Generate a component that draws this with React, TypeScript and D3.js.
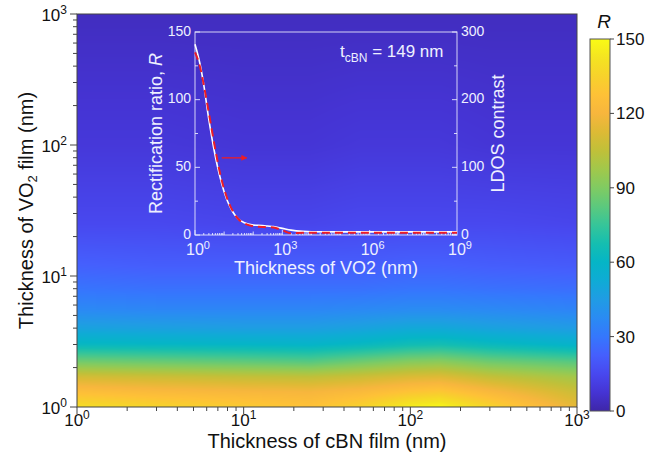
import React, { useEffect, useRef } from "react";
import * as d3 from "d3";

const width = 647;
const height = 470;
const FONT = "Arial, 'Liberation Sans', Helvetica, sans-serif";

// heatmap samples: R(VO2 thickness, cBN thickness)
const cbnThickness = [1, 3, 10, 25, 50, 100, 150, 300, 1000];
const vo2Thickness = [1, 1.3, 1.7, 2.2, 3, 4, 5.5, 8, 12, 25, 100, 1000];
const rectification = [
  [140, 136, 132, 128, 135, 146, 149, 136, 115],
  [126, 123, 121, 120, 123, 129, 131, 122, 108],
  [110, 108, 106, 105, 108, 112, 113, 106, 98],
  [88, 86, 84, 82, 87, 92, 93, 87, 82],
  [62, 61, 60, 59, 62, 66, 67, 63, 58],
  [48, 47, 46, 46, 48, 51, 51, 48, 45],
  [37, 36, 36, 36, 37, 38, 38, 37, 35],
  [29, 28, 28, 28, 28, 29, 29, 28, 27],
  [23, 22, 22, 22, 22, 23, 23, 22, 21],
  [15, 15, 14, 14, 15, 15, 15, 15, 14],
  [9, 9, 8, 8, 9, 9, 9, 8, 8],
  [4, 4, 4, 4, 4, 4, 4, 4, 4],
];

// inset: tcBN = 149 nm
const insetVo2 = [1, 1.5, 2, 3, 5, 7, 10, 15, 20, 30, 50, 100, 200, 300, 500, 1000, 2000, 5000, 1e4, 1e5, 1e6, 1e9];
const insetR = [141, 126, 111, 85, 58, 44, 32, 22, 17, 12, 9, 7.4, 7, 6.6, 6.2, 4.9, 3.6, 2.7, 2.4, 2.3, 2.3, 2.3];
const insetLdos = [270, 248, 222, 180, 126, 94, 68, 46, 35, 24, 17, 13, 12, 11.5, 11, 7, 2.5, 3.2, 3.2, 3.2, 3.2, 3.2];
const arrowVo2 = [8.3, 60];
const arrowR = 57;

const mainTicks = [1, 10, 100, 1000];
const insetXTicks = [1, 1e3, 1e6, 1e9];
const insetLeftTicks = [0, 50, 100, 150];
const insetRightTicks = [0, 100, 200, 300];
const colorbarTicks = [0, 30, 60, 90, 120, 150];

// parula colormap stops
const parula = [
  [0.2422, 0.1504, 0.6603], [0.2717, 0.2052, 0.8305], [0.281, 0.284, 0.938],
  [0.2712, 0.3726, 0.992], [0.2075, 0.466, 0.9915], [0.1659, 0.5463, 0.952],
  [0.1237, 0.6116, 0.8926], [0.059, 0.6693, 0.8359], [0.0196, 0.7114, 0.7747],
  [0.082, 0.7461, 0.691], [0.2115, 0.7707, 0.5993], [0.3626, 0.7886, 0.4921],
  [0.5015, 0.7974, 0.3837], [0.6327, 0.7855, 0.2946], [0.754, 0.7544, 0.2226],
  [0.8666, 0.7276, 0.2069], [0.9703, 0.7148, 0.2393], [0.996, 0.7581, 0.2152],
  [0.9684, 0.8248, 0.1678], [0.9578, 0.8951, 0.1291], [0.9769, 0.9839, 0.0805],
];

const m = { left: 77, right: 577, top: 14, bottom: 407 };
const cb = { left: 590, right: 610, top: 39, bottom: 411 };
const ins = { left: 195, right: 457, top: 32, bottom: 235 };

function sup(sel, base, exp, size, expSize, lift = 0.42) {
  sel.append("tspan").attr("font-size", size).text(base);
  sel.append("tspan").attr("font-size", expSize).attr("dy", -size * lift).text(exp);
}

const App = () => {
  const svgRef = useRef(null);

  useEffect(() => {
    const svg = d3.select(svgRef.current);
    svg.selectAll("*").remove();

    const vmax = 150;
    const color = d3
      .scaleLinear()
      .domain(parula.map((_, i) => (i / (parula.length - 1)) * vmax))
      .range(parula.map((c) => d3.rgb(c[0] * 255, c[1] * 255, c[2] * 255).toString()))
      .clamp(true);

    const x = d3.scaleLog().domain([1, 1000]).range([m.left, m.right]);
    const y = d3.scaleLog().domain([1, 1000]).range([m.bottom, m.top]);

    // heatmap raster
    const w = m.right - m.left;
    const h = m.bottom - m.top;
    const canvas = document.createElement("canvas");
    canvas.width = w;
    canvas.height = h;
    const ctx = canvas.getContext("2d");
    const img = ctx.createImageData(w, h);
    const lx = cbnThickness.map(Math.log10);
    const ly = vo2Thickness.map(Math.log10);
    const locate = (arr, v) => {
      let i = d3.bisectRight(arr, v) - 1;
      i = Math.max(0, Math.min(arr.length - 2, i));
      const t = Math.max(0, Math.min(1, (v - arr[i]) / (arr[i + 1] - arr[i])));
      return [i, t];
    };
    for (let py = 0; py < h; py++) {
      const vy = Math.log10(y.invert(m.top + py + 0.5));
      const [j, ty] = locate(ly, vy);
      for (let px = 0; px < w; px++) {
        const vx = Math.log10(x.invert(m.left + px + 0.5));
        const [i, tx] = locate(lx, vx);
        const a = rectification[j][i] * (1 - tx) + rectification[j][i + 1] * tx;
        const b = rectification[j + 1][i] * (1 - tx) + rectification[j + 1][i + 1] * tx;
        const v = a * (1 - ty) + b * ty;
        const c = d3.rgb(color(v));
        const k = (py * w + px) * 4;
        img.data[k] = c.r;
        img.data[k + 1] = c.g;
        img.data[k + 2] = c.b;
        img.data[k + 3] = 255;
      }
    }
    ctx.putImageData(img, 0, 0);
    svg
      .append("image")
      .attr("x", m.left)
      .attr("y", m.top)
      .attr("width", w)
      .attr("height", h)
      .attr("preserveAspectRatio", "none")
      .attr("href", canvas.toDataURL());

    svg
      .append("rect")
      .attr("x", m.left)
      .attr("y", m.top)
      .attr("width", w)
      .attr("height", h)
      .attr("fill", "none")
      .attr("stroke", "#444")
      .attr("stroke-width", 1);

    // main axes ticks (outward)
    const ax = svg.append("g").attr("stroke", "#444").attr("stroke-width", 1);
    for (let d = 0; d < 3; d++) {
      for (let k = 1; k < 10; k++) {
        const v = k * Math.pow(10, d);
        const len = k === 1 ? 7 : 4;
        ax.append("line").attr("x1", x(v)).attr("x2", x(v)).attr("y1", m.bottom).attr("y2", m.bottom + len);
        ax.append("line").attr("y1", y(v)).attr("y2", y(v)).attr("x1", m.left).attr("x2", m.left - len);
      }
    }
    ax.append("line").attr("x1", x(1000)).attr("x2", x(1000)).attr("y1", m.bottom).attr("y2", m.bottom + 7);
    ax.append("line").attr("y1", y(1000)).attr("y2", y(1000)).attr("x1", m.left).attr("x2", m.left - 7);

    mainTicks.forEach((v, i) => {
      const t = svg
        .append("text")
        .attr("x", x(v))
        .attr("y", 426)
        .attr("text-anchor", "middle")
        .attr("font-family", FONT)
        .attr("fill", "#111");
      sup(t, "10", String(i), 17, 12);
      const ty = svg
        .append("text")
        .attr("x", 67)
        .attr("y", y(v) + 7)
        .attr("text-anchor", "end")
        .attr("font-family", FONT)
        .attr("fill", "#111");
      sup(ty, "10", String(i), 17, 12);
    });

    svg
      .append("text")
      .attr("x", (m.left + m.right) / 2)
      .attr("y", 448)
      .attr("text-anchor", "middle")
      .attr("font-family", FONT)
      .attr("font-size", 20)
      .attr("fill", "#111")
      .text("Thickness of cBN film (nm)");

    const yl = svg
      .append("text")
      .attr("transform", `translate(33,${(m.top + m.bottom) / 2}) rotate(-90)`)
      .attr("text-anchor", "middle")
      .attr("font-family", FONT)
      .attr("font-size", 20)
      .attr("fill", "#111");
    yl.append("tspan").text("Thickness of VO");
    yl.append("tspan").attr("font-size", 13).attr("dy", 4).text("2");
    yl.append("tspan").attr("dy", -4).text(" film (nm)");

    // colorbar
    const cy = d3.scaleLinear().domain([0, vmax]).range([cb.bottom, cb.top]);
    const grad = svg
      .append("defs")
      .append("linearGradient")
      .attr("id", "cbgrad")
      .attr("x1", 0)
      .attr("y1", 1)
      .attr("x2", 0)
      .attr("y2", 0);
    parula.forEach((c, i) => {
      grad
        .append("stop")
        .attr("offset", i / (parula.length - 1))
        .attr("stop-color", d3.rgb(c[0] * 255, c[1] * 255, c[2] * 255).toString());
    });
    svg
      .append("rect")
      .attr("x", cb.left)
      .attr("y", cb.top)
      .attr("width", cb.right - cb.left)
      .attr("height", cb.bottom - cb.top)
      .attr("fill", "url(#cbgrad)")
      .attr("stroke", "#555")
      .attr("stroke-width", 1);
    colorbarTicks.forEach((v) => {
      svg
        .append("line")
        .attr("x1", cb.right)
        .attr("x2", cb.right + 4)
        .attr("y1", cy(v))
        .attr("y2", cy(v))
        .attr("stroke", "#444");
      svg
        .append("text")
        .attr("x", cb.right + 6)
        .attr("y", cy(v) + 6)
        .attr("font-family", FONT)
        .attr("font-size", 17)
        .attr("fill", "#111")
        .text(v);
    });
    svg
      .append("text")
      .attr("x", 604)
      .attr("y", 28)
      .attr("text-anchor", "middle")
      .attr("font-family", FONT)
      .attr("font-size", 19)
      .attr("font-style", "italic")
      .attr("fill", "#111")
      .text("R");

    // inset
    const ix = d3.scaleLog().domain([1, 1e9]).range([ins.left, ins.right]);
    const iyL = d3.scaleLinear().domain([0, 150]).range([ins.bottom, ins.top]);
    const iyR = d3.scaleLinear().domain([0, 300]).range([ins.bottom, ins.top]);
    const ig = svg.append("g");
    const white = "#eef0ff";
    ig.append("rect")
      .attr("x", ins.left)
      .attr("y", ins.top)
      .attr("width", ins.right - ins.left)
      .attr("height", ins.bottom - ins.top)
      .attr("fill", "none")
      .attr("stroke", white)
      .attr("stroke-opacity", 0.85)
      .attr("stroke-width", 1);
    const itk = ig.append("g").attr("stroke", white).attr("stroke-opacity", 0.85);
    for (let d = 0; d < 9; d++) {
      for (let k = 1; k < 10; k++) {
        const v = k * Math.pow(10, d);
        const len = k === 1 ? (d % 3 === 0 ? 5 : 3.5) : 2;
        itk.append("line").attr("x1", ix(v)).attr("x2", ix(v)).attr("y1", ins.bottom).attr("y2", ins.bottom - len);
      }
    }
    d3.range(0, 151, 25).forEach((v) => {
      const len = v % 50 === 0 ? 5 : 3;
      itk.append("line").attr("x1", ins.left).attr("x2", ins.left + len).attr("y1", iyL(v)).attr("y2", iyL(v));
    });
    d3.range(0, 301, 50).forEach((v) => {
      const len = v % 100 === 0 ? 5 : 3;
      itk.append("line").attr("x1", ins.right).attr("x2", ins.right - len).attr("y1", iyR(v)).attr("y2", iyR(v));
    });
    insetLeftTicks.forEach((v) => {
      ig.append("text")
        .attr("x", ins.left - 4)
        .attr("y", iyL(v) + 3.5)
        .attr("text-anchor", "end")
        .attr("font-family", FONT)
        .attr("font-size", 14)
        .attr("fill", white)
        .text(v);
    });
    insetRightTicks.forEach((v) => {
      ig.append("text")
        .attr("x", ins.right + 4)
        .attr("y", iyR(v) + 3.5)
        .attr("font-family", FONT)
        .attr("font-size", 14)
        .attr("fill", white)
        .text(v);
    });
    insetXTicks.forEach((v) => {
      const t = ig
        .append("text")
        .attr("x", ix(v) + 3)
        .attr("y", 255)
        .attr("text-anchor", "middle")
        .attr("font-family", FONT)
        .attr("fill", white);
      sup(t, "10", String(Math.round(Math.log10(v))), 16, 11, 0.36);
    });
    ig.append("text")
      .attr("x", (ins.left + ins.right) / 2)
      .attr("y", 274)
      .attr("text-anchor", "middle")
      .attr("font-family", FONT)
      .attr("font-size", 18)
      .attr("fill", white)
      .text("Thickness of VO2 (nm)");
    const ilab = ig
      .append("text")
      .attr("transform", `translate(162,${(ins.top + ins.bottom) / 2}) rotate(-90)`)
      .attr("text-anchor", "middle")
      .attr("font-family", FONT)
      .attr("font-size", 18)
      .attr("fill", white);
    ilab.append("tspan").text("Rectification ratio, ");
    ilab.append("tspan").attr("font-style", "italic").text("R");
    ig.append("text")
      .attr("transform", `translate(504,${(ins.top + ins.bottom) / 2}) rotate(-90)`)
      .attr("text-anchor", "middle")
      .attr("font-family", FONT)
      .attr("font-size", 18)
      .attr("fill", white)
      .text("LDOS contrast");
    const tl = ig
      .append("text")
      .attr("x", 340)
      .attr("y", 57)
      .attr("font-family", FONT)
      .attr("font-size", 17)
      .attr("fill", white);
    tl.append("tspan").text("t");
    tl.append("tspan").attr("font-size", 12).attr("dy", 5).text("cBN");
    tl.append("tspan").attr("dy", -5).text(" = 149 nm");

    const rLine = d3
      .line()
      .x((d, i) => ix(insetVo2[i]))
      .y((d) => iyL(d))
      .curve(d3.curveMonotoneX);
    const lLine = d3
      .line()
      .x((d, i) => ix(insetVo2[i]))
      .y((d) => iyR(d))
      .curve(d3.curveMonotoneX);
    ig.append("path")
      .attr("d", rLine(insetR))
      .attr("fill", "none")
      .attr("stroke", "#ffffff")
      .attr("stroke-width", 1.6);
    ig.append("path")
      .attr("d", lLine(insetLdos))
      .attr("fill", "none")
      .attr("stroke", "#ee1c25")
      .attr("stroke-width", 2)
      .attr("stroke-dasharray", "8,5");

    const defs = svg.select("defs");
    defs
      .append("marker")
      .attr("id", "arrowhead")
      .attr("viewBox", "0 0 10 10")
      .attr("refX", 9)
      .attr("refY", 5)
      .attr("markerWidth", 6)
      .attr("markerHeight", 6)
      .attr("markerUnits", "userSpaceOnUse")
      .attr("orient", "auto")
      .append("path")
      .attr("d", "M0,0 L10,5 L0,10 Z")
      .attr("fill", "#ee1c25");
    ig.append("line")
      .attr("x1", ix(arrowVo2[0]))
      .attr("x2", ix(arrowVo2[1]))
      .attr("y1", iyL(arrowR))
      .attr("y2", iyL(arrowR))
      .attr("stroke", "#ee1c25")
      .attr("stroke-width", 1.3)
      .attr("marker-end", "url(#arrowhead)");
  }, []);

  return (
    <div style={{ position: "fixed", left: 0, top: 0 }}>
      <svg ref={svgRef} width={width} height={height} style={{ display: "block", background: "#fff" }}></svg>
    </div>
  );
};

export default App;
